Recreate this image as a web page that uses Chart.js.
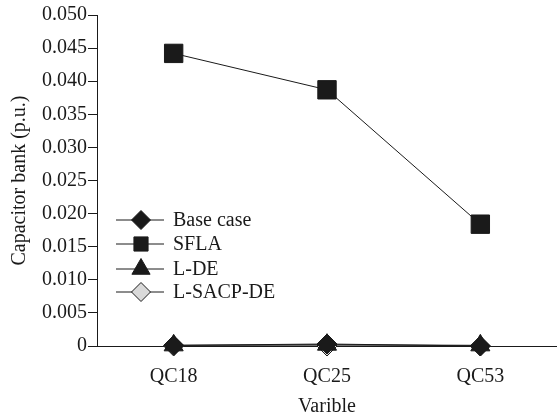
<!DOCTYPE html>
<html>
<head>
<meta charset="utf-8">
<script src="https://cdn.jsdelivr.net/npm/chart.js@4"></script>
<style>
  html, body { margin: 0; padding: 0; background: #fff; }
  #wrap { width: 557px; height: 417px; }
</style>
</head>
<body>
<div id="wrap"><canvas id="capChart" width="557" height="417"></canvas></div>
<script>
const categories = ['QC18', 'QC25', 'QC53'];
const baseCase = [0.0001, 0.0003, 0.0000];
const sfla = [0.0442, 0.0387, 0.0184];
const lde = [0.0001, 0.0002, 0.0001];
const lsacpde = [0.0000, 0.0000, 0.0000];
const yTicks = [0, 0.005, 0.010, 0.015, 0.020, 0.025, 0.030, 0.035, 0.040, 0.045, 0.050];
const seriesNames = ['Base case', 'SFLA', 'L-DE', 'L-SACP-DE'];

const ink = '#1a1a1a';
const serif = '"Liberation Serif", "Times New Roman", serif';
const fontSize = 20;

function makeSet(label, data, style, fill, radius, legendRadius) {
    return {
        label: label,
        data: data,
        borderColor: ink,
        borderWidth: 1,
        pointStyle: style,
        pointRadius: radius,
        pointHoverRadius: radius,
        pointBackgroundColor: fill,
        pointBorderColor: ink,
        pointBorderWidth: 1,
        legendRadius: legendRadius,
        clip: false,
        fill: false,
        tension: 0
    };
}

// legend sits inside the plot, with a short line through each marker
const legendInside = {
    id: 'legendInside',
    afterDraw(chart) {
        const c = chart.ctx;
        const x0 = 116;
        const rows = [220, 244, 269, 292];
        c.save();
        chart.data.datasets.forEach((ds, i) => {
            const y = rows[i];
            c.strokeStyle = ink;
            c.lineWidth = 1;
            c.beginPath();
            c.moveTo(x0, y);
            c.lineTo(x0 + 48, y);
            c.stroke();
            c.fillStyle = ds.pointBackgroundColor;
            c.strokeStyle = ink;
            Chart.helpers.drawPoint(c, {
                pointStyle: ds.pointStyle,
                radius: ds.legendRadius,
                rotation: 0,
                borderWidth: 1
            }, x0 + 25, y);
            c.fillStyle = ink;
            c.font = fontSize + 'px ' + serif;
            c.textBaseline = 'middle';
            c.fillText(ds.label, 173, y + 1);
        });
        c.restore();
    }
};

const ctx = document.getElementById('capChart').getContext('2d');
const chart = new Chart(ctx, {
    type: 'line',
    data: {
        labels: categories,
        datasets: [
            makeSet(seriesNames[0], baseCase, 'rectRot', ink, 10, 9.5),
            makeSet(seriesNames[1], sfla, 'rect', ink, 13, 10),
            makeSet(seriesNames[2], lde, 'triangle', ink, 11, 10.5),
            makeSet(seriesNames[3], lsacpde, 'rectRot', '#d9d9d9', 10, 9.5)
        ]
    },
    options: {
        responsive: false,
        animation: false,
        layout: { autoPadding: false, padding: { top: 15, right: -6, left: 0, bottom: -6 } },
        plugins: {
            legend: { display: false },
            tooltip: { enabled: false }
        },
        scales: {
            x: {
                offset: true,
                afterFit: s => { s.height = 77; s.paddingLeft = 0; s.paddingRight = 0; },
                grid: { display: true, drawOnChartArea: false, drawTicks: true, tickLength: 4, color: ink },
                border: { display: true, color: ink, width: 1 },
                ticks: { color: ink, font: { family: serif, size: fontSize }, padding: 15 },
                title: { display: true, text: 'Varible', color: ink, font: { family: serif, size: fontSize }, padding: { top: 2, bottom: 4 } }
            },
            y: {
                min: 0,
                max: 0.05,
                afterFit: s => { s.width = 97; s.paddingTop = 0; s.paddingBottom = 0; },
                afterBuildTicks: s => { s.ticks = yTicks.map(v => ({ value: v })); },
                grid: { display: true, drawOnChartArea: false, drawTicks: true, tickLength: 9, color: ink },
                border: { display: true, color: ink, width: 1 },
                ticks: {
                    color: ink,
                    font: { family: serif, size: fontSize },
                    padding: 1,
                    callback: v => v === 0 ? '0' : v.toFixed(3)
                },
                title: { display: true, text: 'Capacitor bank (p.u.)', color: ink, font: { family: serif, size: fontSize }, padding: { top: 8, bottom: 0 } }
            }
        }
    },
    plugins: [legendInside]
});
</script>
</body>
</html>
